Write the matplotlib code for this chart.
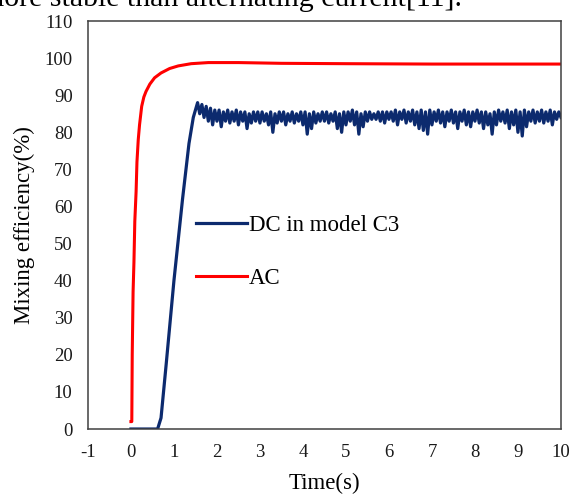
import numpy as np
import matplotlib
matplotlib.use("Agg")
import matplotlib.pyplot as plt

plt.rcParams['font.family'] = ['Liberation Serif', 'DejaVu Serif']
plt.rcParams['axes.unicode_minus'] = False

# AC curve (time in s, mixing efficiency in %)
ac_time = [0.0, 0.02, 0.03, 0.05, 0.07, 0.09, 0.12, 0.14, 0.17, 0.2, 0.25, 0.3, 0.35,
           0.44, 0.55, 0.7, 0.9, 1.1, 1.4, 1.8, 2.5, 3.5, 5.0, 7.0, 10.0]
ac_eff = [2, 2, 20, 37, 45, 56, 64, 72, 78, 82, 87, 89.5, 91,
          93, 94.7, 96, 97.2, 97.9, 98.5, 98.8, 98.8, 98.6, 98.5, 98.4, 98.4]

# DC in model C3: start-up ramp
dc_ramp_time = [0.0, 0.62, 0.7, 0.82, 1.0, 1.2, 1.35, 1.45]
dc_ramp_eff = [0, 0, 3, 17.5, 40, 62, 77, 84]

# DC in model C3: fluctuating part, one value every 0.05 s from 1.5 s to 10 s
dc_band_eff = [
    86, 88, 85, 87.5, 84, 87, 83, 86.5, 82, 86,
    83, 86, 81.5, 85.5, 83, 86, 82.5, 85.5, 83, 86,
    82, 85.5, 83, 85.5, 81, 85, 82.5, 85.5, 83, 85.5,
    82.5, 85.5, 83, 85, 82, 85.5, 80, 85, 82.5, 85.5,
    83, 85.5, 82, 85, 83, 85.5, 82.5, 85, 83, 85.5,
    82, 85.5, 79.5, 85, 81, 85.5, 82.5, 85, 83, 85.5,
    83, 85.5, 82.5, 85, 83, 85.5, 81, 85, 80, 85.5,
    82, 85.5, 83, 86, 82, 85.5, 79.5, 85, 81.5, 85.5,
    83, 85.5, 83.5, 85, 83.5, 85.5, 83, 85.5, 82.5, 85.5,
    83.5, 85.5, 83, 86, 82, 85.5, 83.5, 86, 82.5, 85.5,
    83, 86, 82, 85.5, 81, 86, 80.5, 85.5, 79.5, 86,
    82, 85.5, 83, 86, 82.5, 85.5, 81.5, 85.5, 83, 86,
    82.5, 85.5, 81, 85.5, 83, 86, 82, 85.5, 81.5, 85.5,
    83, 86, 82.5, 85.5, 81, 85.5, 82, 85, 79.5, 85.5,
    82, 86, 83, 85.5, 82.5, 86, 81, 85.5, 82, 86,
    80, 85.5, 79, 86, 81.5, 85.5, 83, 86, 82.5, 85.5,
    83, 86, 82.5, 85.5, 83, 86, 82, 85.5, 83.5, 85.5,
    84,
]
dc_band_time = np.round(np.linspace(1.5, 10.0, len(dc_band_eff)), 2)

dc_time = list(dc_ramp_time) + list(dc_band_time)
dc_eff = list(dc_ramp_eff) + list(dc_band_eff)

x_ticks = list(range(-1, 11))
y_ticks = list(range(0, 111, 10))

fig = plt.figure(figsize=(5.71, 4.95), dpi=100)
ax = fig.add_axes([0.154, 0.1333, 0.8284, 0.8242])

ax.plot(dc_time, dc_eff, color='#0c2a6e', lw=2.3, label='DC in model C3')
ax.plot(ac_time, ac_eff, color='#ff0000', lw=2.2, label='AC')

ax.set_xlim(-1, 10)
ax.set_ylim(0, 110)
ax.set_xticks(x_ticks)
ax.set_yticks(y_ticks)
ax.tick_params(length=0, labelsize=13.5, pad=11, labelcolor='#1a1a1a')
for s in ax.spines.values():
    s.set_color('#404040')
    s.set_linewidth(1.1)

ax.set_xlabel('Time(s)', fontsize=16.5, labelpad=8)
ax.set_ylabel('Mixing efficiency(%)', fontsize=16.5, labelpad=7)

ax.legend(loc='upper left', bbox_to_anchor=(0.21, 0.548), frameon=False,
          fontsize=16.5, handlelength=2.2, handletextpad=0.1,
          labelspacing=1.4, borderaxespad=0)

# fragment of the paper text above the figure (cut off at the top)
fig.text(462 / 571, 1 - 6 / 495, 'more stable than alternating current[11].',
         ha='right', va='baseline', fontsize=21.5)

fig.savefig('out.png', dpi=100)
